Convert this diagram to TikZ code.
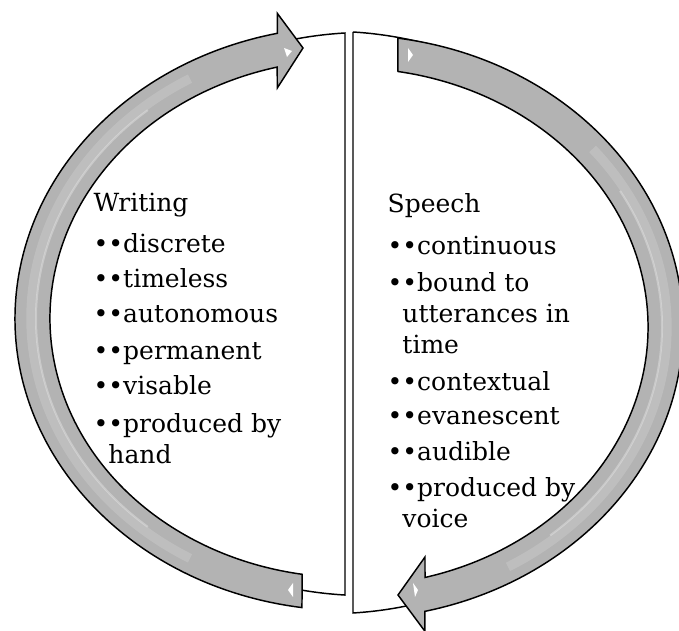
\documentclass[tikz,border=0pt]{standalone}
\usepackage{fontspec}
\setmainfont{DejaVu Serif}
\usetikzlibrary{calc}
\definecolor{cband}{HTML}{B3B3B3}
\definecolor{cline}{HTML}{000000}
\tikzset{
  every picture/.style={line width=1.1pt, x=0.75pt, y=0.75pt},
  panel/.style={draw=cline, fill=white, line width=1.1pt},
  band/.style={draw=cline, fill=cband, line width=1.1pt, line join=miter},
  shine/.style={draw=white, line width=#1, opacity=0.3},
  shine/.default=1.5pt,
  glint/.style={fill=white, draw=none},
  item/.style={anchor=base west, align=left, inner sep=0pt, font=\fontsize{18.75pt}{23.6pt}\selectfont},
}

\begin{document}
\begin{tikzpicture}
  \useasboundingbox (0,0) rectangle (679,631);
  \coordinate (lc) at (349,312.5);
  \coordinate (rc) at (349,304);
  % the two half panels
  \draw[panel] (345,36) -- (345,598) arc[start angle=93.96, end angle=266.04, x radius=333, y radius=281.7] -- cycle;
  \draw[panel] (353,599) -- (353,18) arc[start angle=-86.04, end angle=86.04, x radius=333, y radius=291.2] -- cycle;
  % left arrow, running up
  \draw[band] ($(lc)+(261.9:334 and 292)$) arc[start angle=261.9, end angle=102.4, x radius=334, y radius=292]
    -- ++(0,20) -- (303,583) -- (277.3,543) -- ($(lc)+(103.9:299 and 259)$)
    arc[start angle=103.9, end angle=261, x radius=299, y radius=259] -- cycle;
  \draw[shine=7pt, opacity=.15] ($(lc)+(240:318 and 277)$) arc[start angle=240, end angle=120, x radius=318, y radius=277];
  \draw[shine] ($(lc)+(230:313 and 272)$) arc[start angle=230, end angle=130, x radius=313, y radius=272];
  % right arrow, running down
  \draw[band] ($(rc)+(81.6:334 and 292)$) arc[start angle=81.6, end angle=-76.85, x radius=334, y radius=292]
    -- ++(0,-20) -- (398,36) -- (425,74) -- ($(rc)+(-75.27:299 and 259)$)
    arc[start angle=-75.27, end angle=80.57, x radius=299, y radius=259] -- cycle;
  \draw[shine=7pt, opacity=.15] ($(rc)+(40:318 and 277)$) arc[start angle=40, end angle=-60, x radius=318, y radius=277];
  \draw[shine] ($(rc)+(30:313 and 272)$) arc[start angle=30, end angle=-50, x radius=313, y radius=272];
  % small glints at the ends
  \fill[glint] (284,583) -- (292,580) -- (287,574) -- cycle;
  \fill[glint] (408,583) -- (413,576) -- (408,569) -- cycle;
  \fill[glint] (293,48) -- (288,41) -- (293,34) -- cycle;
  \fill[glint] (413,48) -- (418,41) -- (415,34) -- cycle;
  % writing side (y = baseline of the last line, from the top)
  \node[item] (wtitle) at (93,419) {Writing};
  \foreach \txt/\yy [count=\i] in {••discrete/253, ••timeless/288, ••autonomous/323, ••permanent/360, ••visable/395,
                                   {••produced by\\\phantom{•}hand}/464}
    \node[item] (w\i) at (93,631-\yy) {\txt};
  % speech side
  \node[item] (stitle) at (387,418) {Speech};
  \foreach \txt/\yy [count=\i] in {••continuous/255, {••bound to\\\phantom{•}utterances in\\\phantom{•}time}/354,
                                   ••contextual/391, ••evanescent/425, ••audible/461,
                                   {••produced by\\\phantom{•}voice}/528}
    \node[item] (s\i) at (387,631-\yy) {\txt};
\end{tikzpicture}
\end{document}
